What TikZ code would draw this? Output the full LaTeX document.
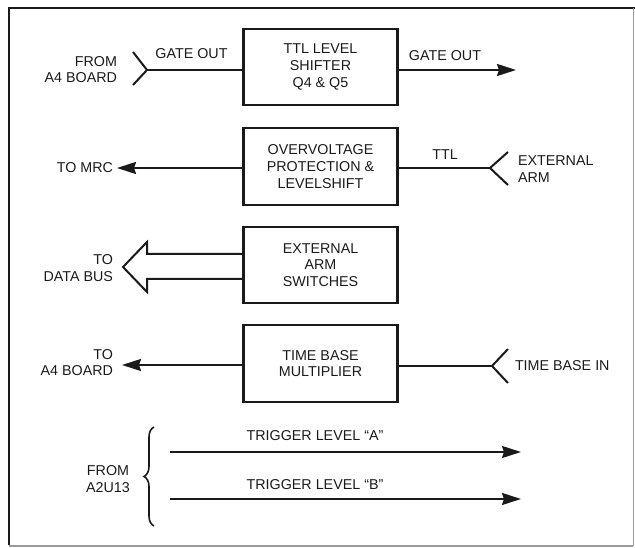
\documentclass[tikz,border=0pt]{standalone}
\usepackage{fontspec}
\setmainfont{Liberation Sans}
\usetikzlibrary{arrows.meta,decorations.pathreplacing}
\definecolor{ink}{HTML}{1A1A1A}
\definecolor{faint}{HTML}{9A9A9A}
\begin{document}
\begin{tikzpicture}[x=1pt,y=-1pt,
  every node/.style={inner sep=0pt,outer sep=0pt,text=ink,font=\fontsize{14.3}{16.8}\selectfont},
  blk/.style={draw=ink,line width=2.6pt,minimum width=154pt,align=center},
  wire/.style={draw=ink,line width=2pt},
  sig/.style={wire,-{Stealth[length=19pt,width=12pt,inset=2pt]}},
  chev/.style={draw=ink,line width=2pt,line join=miter},
  lbl/.style={align=right,anchor=east},
  lbll/.style={align=left,anchor=west}]
\useasboundingbox (0,0) rectangle (635,548);
% frame
\draw[ink,line width=2.6pt] (9,545) -- (9,8) -- (635,8);
\draw[faint,line width=1pt] (633,8) -- (633,546);
\draw[faint,line width=1.4pt] (9,546) -- (633,546);
% blocks
\node[blk,minimum height=76pt] (b1) at (320.5,67) {TTL LEVEL\\SHIFTER\\Q4 \& Q5};
\node[blk,minimum height=77pt] (b2) at (320.5,166.5) {OVERVOLTAGE\\PROTECTION \&\\LEVELSHIFT};
\node[blk,minimum height=76pt] (b3) at (320.5,265) {EXTERNAL\\ARM\\SWITCHES};
\node[blk,minimum height=77pt] (b4) at (320.5,363.5) {TIME BASE\\MULTIPLIER};
% row 1
\coordinate (v1) at (147,70);
\draw[chev] (133,52) -- (v1) -- (133,85);
\draw[wire] (v1) -- (b1.west |- v1);
\coordinate (o1) at (516,70);
\draw[sig] (b1.east |- o1) -- (o1);
\node[lbl] (f1) at (117,69.5) {FROM\\A4 BOARD};
\node (g1) at (191.5,54) {GATE OUT};
\node (g2) at (445,56) {GATE OUT};
% row 2
\coordinate (o2) at (117,168);
\draw[sig] (b2.west |- o2) -- (o2);
\node[lbl] (mrc) at (113,168) {TO MRC};
\coordinate (v2) at (490,168);
\draw[chev] (508,152) -- (v2) -- (508,185);
\draw[wire] (b2.east |- v2) -- (v2);
\node (ttl) at (445,155) {TTL};
\node[lbll] (ea) at (518,169) {EXTERNAL\\ARM};
% row 3 hollow bus arrow
\coordinate (t3) at (123,267);
\draw[chev] (b3.west |- 0,254) -- (147,254) -- (147,242) -- (t3) -- (147,292) -- (147,279) -- (b3.west |- 0,279);
\node[lbl] (db) at (113,268) {TO\\DATA BUS};
% row 4
\coordinate (o4) at (122,365);
\draw[sig] (b4.west |- o4) -- (o4);
\node[lbl] (a4) at (113,362.5) {TO\\A4 BOARD};
\coordinate (v4) at (492,366);
\draw[chev] (508,349) -- (v4) -- (508,383);
\draw[wire] (b4.east |- v4) -- (v4);
\node[lbll] (tb) at (515,366) {TIME BASE IN};
% row 5
\coordinate (sa) at (170,452);
\coordinate (ea5) at (521,452);
\coordinate (sb) at (170,499);
\coordinate (eb5) at (521,499);
\draw[sig] (sa) -- (ea5);
\draw[sig] (sb) -- (eb5);
\node (ta) at (315,436) {TRIGGER LEVEL ``A''};
\node (tb2) at (315,485) {TRIGGER LEVEL ``B''};
\coordinate (br1) at (154,526);
\coordinate (br2) at (154,427);
\draw[draw=ink,line width=1.6pt,decorate,decoration={brace,amplitude=10pt}] (br1) -- (br2);
\node[align=center] (fa) at (108,479) {FROM\\A2U13};
\end{tikzpicture}
\end{document}
